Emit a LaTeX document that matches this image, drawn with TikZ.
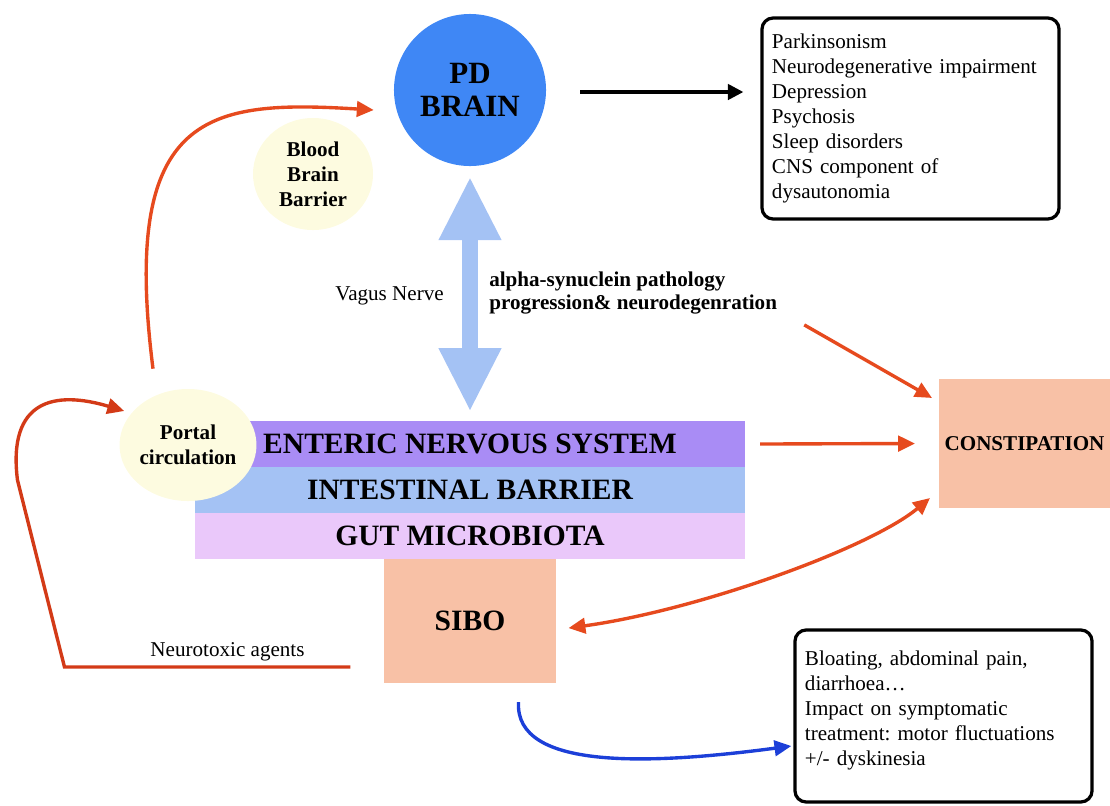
\documentclass[tikz,border=0pt]{standalone}
\usepackage{fontspec}
\setmainfont{Liberation Serif}
\frenchspacing
\usetikzlibrary{positioning,shapes,arrows.meta,calc}
\definecolor{pdBlue}{HTML}{3F87F5}
\definecolor{vagusBlue}{HTML}{A4C2F4}
\definecolor{ensPurple}{HTML}{A98CF5}
\definecolor{barrierBlue}{HTML}{A4C2F4}
\definecolor{microPink}{HTML}{EAC8FA}
\definecolor{gutPeach}{HTML}{F8C1A6}
\definecolor{gutCream}{HTML}{FDFBE0}
\definecolor{arrowRed}{HTML}{E64A1E}
\definecolor{darkRed}{HTML}{D33A17}
\definecolor{arrowBlue}{HTML}{1C3FD8}

\begin{document}
\begin{tikzpicture}[
    x=0.025cm, y=-0.025cm,
    txt/.style={font=\fontsize{15}{17.8}\selectfont},
    bubble/.style={ellipse, fill=gutCream, inner sep=0, align=center, font=\bfseries\fontsize{15}{17.8}\selectfont},
    layer/.style={rectangle, minimum width=13.75cm, minimum height=1.15cm, inner sep=0, outer sep=0, font=\bfseries\fontsize{21}{23.5}\selectfont},
    block/.style={rectangle, fill=gutPeach, inner sep=0, outer sep=0, align=center},
    listbox/.style={rectangle, draw, line width=2.3pt, rounded corners=8pt, text width=6.925cm, inner xsep=0.25cm, align=left, font=\fontsize{15}{17.8}\selectfont},
    redarrow/.style={-{Triangle[length=12pt,width=11pt]}, line width=2.4pt, draw=arrowRed},
    redboth/.style={redarrow, {Triangle[length=12pt,width=11pt]}-{Triangle[length=12pt,width=11pt]}},
    darkarrow/.style={-{Triangle[length=12pt,width=11pt]}, line width=2.4pt, draw=darkRed},
    blackarrow/.style={-{Triangle[length=11pt,width=11pt]}, line width=2.3pt},
    bluearrow/.style={-{Triangle[length=12pt,width=11pt]}, line width=2.4pt, draw=arrowBlue},
    vagusarrow/.style={line width=10.7pt, draw=vagusBlue, {Triangle[length=44pt,width=45pt,line width=0pt]}-{Triangle[length=44pt,width=45pt,line width=0pt]}}
]
    \useasboundingbox (0,0) rectangle (1110,805);

    \node[circle, fill=pdBlue, minimum size=3.8cm, inner sep=0, align=center, font=\bfseries\fontsize{22}{24}\selectfont] (brain) at (470,90) {PD\\BRAIN};
    \node[listbox, minimum height=5.025cm] (cnsbox) at (910.5,118.5) {Parkinsonism\\ Neurodegenerative impairment\\ Depression\\ Psychosis\\ Sleep disorders\\ CNS component of\\ dysautonomia};
    \node[bubble, minimum width=3cm, minimum height=2.8cm] (bbb) at (313,174) {Blood\\ Brain\\ Barrier};

    \node[layer, fill=ensPurple] (ens) at (470,444) {ENTERIC NERVOUS SYSTEM};
    \node[layer, fill=barrierBlue, below=0pt of ens] (barrier) {INTESTINAL BARRIER};
    \node[layer, fill=microPink, below=0pt of barrier] (microbiota) {GUT MICROBIOTA};
    \node[block, minimum width=4.275cm, minimum height=3.1cm, below=0pt of microbiota, font=\bfseries\fontsize{21}{23.5}\selectfont] (sibo) {SIBO};
    \node[bubble, minimum width=3.15cm, minimum height=2.8cm] (portal) at (188,445) {Portal\\ circulation};

    \node[block, minimum width=4.275cm, minimum height=3.225cm, font=\bfseries\fontsize{15}{17.8}\selectfont] (constipation) at (1024.5,443.5) {CONSTIPATION};
    \node[listbox, minimum height=4.3cm] (gutbox) at (943.5,716) {Bloating, abdominal pain,\\ diarrhoea…\\ Impact on symptomatic\\ treatment: motor fluctuations\\ +/- dyskinesia\\[-6.4pt]\mbox{}};

    \node[txt, anchor=east, inner sep=0] (vagus) at (444,296) {Vagus Nerve};
    \node[anchor=west, inner sep=0, align=left, font=\bfseries\fontsize{15}{17}\selectfont] (alpha) at (489,293) {alpha-synuclein pathology\\ progression\& neurodegenration};

    \draw[vagusarrow] ([shift={(0,12)}]brain.south) -- ([shift={(0,-11)}]ens.north);
    \draw[blackarrow] ([shift={(34,2)}]brain.east) -- ($(brain.east -| cnsbox.west)+(-17,2)$);
    \draw[redarrow] ([shift={(-35,-20)}]portal.north) .. controls +(-33,-259) and +(-164,-10) .. ([shift={(-20,20)}]brain.west);
    \draw[darkarrow] ([shift={(-34,46)}]sibo.west) -- ++(-286,0) node[txt, above=0pt, inner sep=3pt, pos=0.43] (toxins) {Neurotoxic agents} -- ++(-47,-187) .. controls +(-10,-80) and +(-70,-21) .. ([shift={(5,-34)}]portal.west);
    \draw[redarrow] ([shift={(27,10)}]alpha.south east) -- ([shift={(-7,19)}]constipation.north west);
    \draw[redarrow] ([shift={(15,0)}]ens.east) -- ([shift={(-24,0)}]constipation.west);
    \draw[redboth] ([shift={(-9,-10)}]constipation.south west) .. controls +(-60,50) and +(130,-18) .. ([shift={(13,7)}]sibo.east);
    \draw[bluearrow] ([shift={(-37,19)}]sibo.south east) .. controls +(-4,68) and +(-143,19) .. ([shift={(-2,30)}]gutbox.west);
\end{tikzpicture}
\end{document}
